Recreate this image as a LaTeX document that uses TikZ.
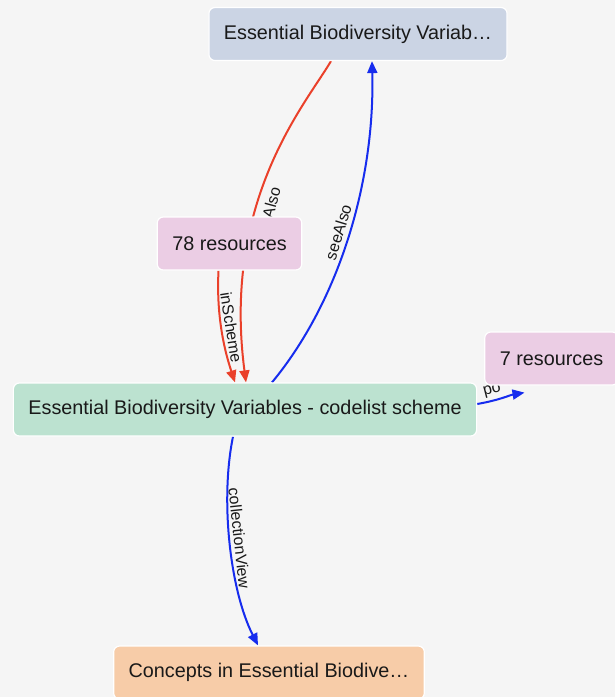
\documentclass[tikz,border=0pt]{standalone}
\usepackage{fontspec}
\setmainfont{Liberation Sans}
\usetikzlibrary{arrows.meta,calc}
\definecolor{evbg}{RGB}{245,245,245}
\definecolor{evslate}{RGB}{203,212,228}
\definecolor{evpink}{RGB}{235,205,228}
\definecolor{evgreen}{RGB}{188,226,208}
\definecolor{evpeach}{RGB}{247,204,168}
\definecolor{evred}{RGB}{234,64,42}
\definecolor{evblue}{RGB}{22,44,238}
\pgfdeclarelayer{bg}
\pgfdeclarelayer{edges}
\pgfsetlayers{bg,edges,main}

\begin{document}
\begin{tikzpicture}[x=1pt,y=-1pt,
  box/.style={draw=white,line width=1.2pt,rounded corners=6pt,minimum height=53pt,inner xsep=15pt,font=\fontsize{19.8}{22}\selectfont,text=black!90},
  rel/.style={line width=2pt,-{Triangle[length=12pt,width=10pt]}},
  lbl/.style={font=\fontsize{16}{18}\selectfont,sloped,inner sep=3pt,text=black!90}]
  \useasboundingbox (0,0) rectangle (615,697);
  \begin{pgfonlayer}{bg}
    \fill[evbg] (0,0) rectangle (615,697);
  \end{pgfonlayer}
  % Nodes
  \node[box,fill=evslate] (ebvTop) at (358,34) {Essential Biodiversity Variab…};
  \node[box,fill=evpink] (res78) at (229.5,243.5) {78 resources};
  \node[box,fill=evgreen] (scheme) at (245,409.5) {Essential Biodiversity Variables - codelist scheme};
  \node[box,fill=evpink] (res7) at (551.5,358.5) {7 resources};
  \node[box,fill=evpeach] (concepts) at (269,672.5) {Concepts in Essential Biodive…};
  % Edges
  \begin{pgfonlayer}{edges}
    \draw[rel,evred] ($(ebvTop.south)+(-27,0)$) .. controls (305,105) and (222,200) .. ($(scheme.north)+(1,0)$)
      node[lbl,pos=0.624,below=3pt] {seeAlso};
    \draw[rel,evred] ($(res78.south)+(-11,0)$) .. controls (216,320) and (226,355) .. ($(scheme.north)+(-10,0)$)
      node[lbl,pos=0.45,above] {inScheme};
    \draw[rel,evblue] ($(scheme.north)+(27,0)$) .. controls (340,300) and (375,180) .. ($(ebvTop.south)+(14,0)$)
      node[lbl,pos=0.5,above=1pt] {seeAlso};
    \draw[rel,evblue] ($(scheme.east)+(0,-5.5)$) .. controls (500,400) and (510,395) .. ($(res7.south)+(-27,7)$)
      node[lbl,pos=0.3,above] {po};
    \draw[rel,evblue] ($(scheme.south)+(-12,0)$) .. controls (220,500) and (230,590) .. ($(concepts.north)+(-11,0)$)
      node[lbl,pos=0.48,above] {collectionView};
  \end{pgfonlayer}
\end{tikzpicture}
\end{document}
